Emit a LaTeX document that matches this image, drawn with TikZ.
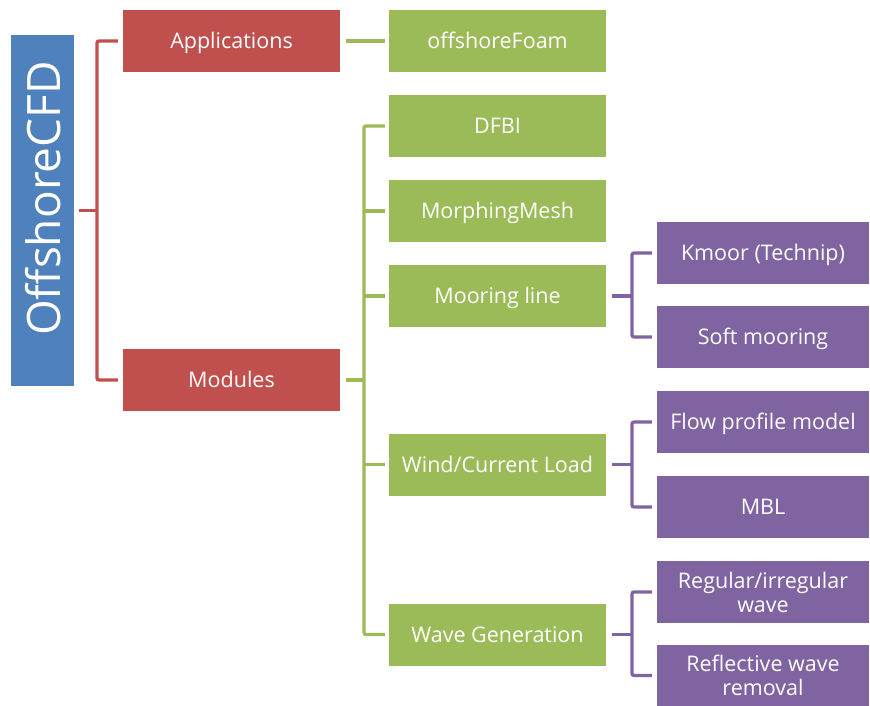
\documentclass[tikz,border=0pt]{standalone}
\usepackage{fontspec}
\setmainfont{Open Sans}
\definecolor{cblue}{HTML}{4F81BD}
\definecolor{cred}{HTML}{C0504D}
\definecolor{cgreen}{HTML}{9BBB59}
\definecolor{cpurple}{HTML}{8064A2}
\begin{document}
\begin{tikzpicture}[x=1pt,y=-1pt,
  box/.style={rectangle, inner sep=0pt, text=white, font=\fontsize{21.5}{24}\selectfont, align=center, minimum height=62pt},
  one/.style={text height=15.5pt, text depth=0pt},
  redbox/.style={box, fill=cred, minimum width=217pt},
  greenbox/.style={box, one, fill=cgreen, minimum width=217pt},
  purplebox/.style={box, fill=cpurple, minimum width=212pt},
  conn/.style={line width=3.3pt, rounded corners=2pt},
  rline/.style={conn, draw=cred},
  gline/.style={conn, draw=cgreen},
  pline/.style={conn, draw=cpurple}]
\useasboundingbox (0,0) rectangle (870,706);
% root
\node[rectangle, fill=cblue, minimum width=63pt, minimum height=351pt, inner sep=0pt] (root) at (42.5,210.5) {};
\node[rotate=90, text=white, font=\fontsize{46}{48}\selectfont] (roottext) at ([xshift=1pt,yshift=12pt]root.center) {OffshoreCFD};
% level 1
\node[redbox, one] (app) at (231.5,41) {Applications};
\node[redbox, one] (mod) at (231.5,380) {Modules};
% level 2
\node[greenbox] (foam) at (497.5,41) {offshoreFoam};
\node[greenbox] (dfbi) at (497.5,126) {DFBI};
\node[greenbox] (morph) at (497.5,211) {MorphingMesh};
\node[greenbox] (moor) at (497.5,296) {Mooring line};
\node[greenbox] (wind) at (497.5,464.5) {Wind/Current Load};
\node[greenbox] (wave) at (497.5,634.5) {Wave Generation};
% level 3
\node[purplebox, one] (kmoor) at (763,253) {Kmoor (Technip)};
\node[purplebox, one] (soft) at (763,337) {Soft mooring};
\node[purplebox, one] (flow) at (763,422) {Flow profile model};
\node[purplebox, one] (mbl) at (763,507) {MBL};
\node[purplebox] (reg) at (763,592) {Regular/irregular\\wave};
\node[purplebox] (refl) at (763,675.5) {Reflective wave\\removal};
% junctions
\coordinate (rj) at (97,210.5);
\coordinate (gj) at (364,380);
\coordinate (pj1) at (632,296);
\coordinate (pj2) at (632,464.5);
\coordinate (pj3) at (632,634.5);
% red connectors
\draw[rline] ([xshift=5pt]root.east) -- (rj);
\draw[rline] ([xshift=-5pt]app.west) -| (rj) |- ([xshift=-5pt]mod.west);
% green connectors
\draw[gline] ([xshift=6pt]app.east) -- ([xshift=-4pt]foam.west);
\draw[gline] ([xshift=6pt]mod.east) -- (gj);
\draw[gline] ([xshift=-4pt]dfbi.west) -| (gj) |- ([xshift=-4pt]wave.west);
\draw[gline] ([xshift=-4pt]morph.west) -- (morph.west -| gj);
\draw[gline] ([xshift=-4pt]moor.west) -- (moor.west -| gj);
\draw[gline] ([xshift=-4pt]wind.west) -- (wind.west -| gj);
% purple connectors
\draw[pline] ([xshift=6pt]moor.east) -- (pj1);
\draw[pline] ([xshift=-5pt]kmoor.west) -| (pj1) |- ([xshift=-5pt]soft.west);
\draw[pline] ([xshift=6pt]wind.east) -- (pj2);
\draw[pline] ([xshift=-5pt]flow.west) -| (pj2) |- ([xshift=-5pt]mbl.west);
\draw[pline] ([xshift=6pt]wave.east) -- (pj3);
\draw[pline] ([xshift=-5pt]reg.west) -| (pj3) |- ([xshift=-5pt]refl.west);
\end{tikzpicture}
\end{document}
